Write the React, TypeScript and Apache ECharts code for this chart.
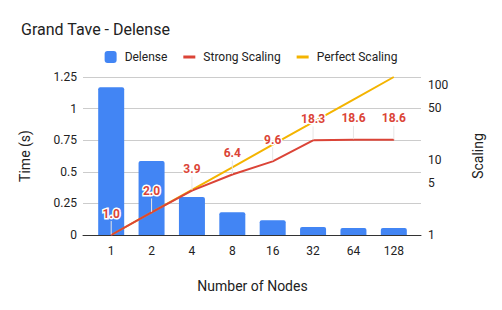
import React, { useEffect, useRef } from "react";
import * as echarts from "echarts";

const nodes = ["1", "2", "4", "8", "16", "32", "64", "128"];
const delenseTime = [1.168, 0.585, 0.3, 0.18, 0.116, 0.063, 0.055, 0.055];
const strongScaling = [1.0, 2.0, 3.9, 6.4, 9.6, 18.3, 18.6, 18.6];
const perfectScaling = [1, 2, 4, 8, 16, 32, 64, 128];
const leftTicks = [0, 0.25, 0.5, 0.75, 1, 1.25];
const rightTicks = [1, 5, 10, 50, 100];

const FONT = "Roboto";
const TXT = "#222222";

export default function App() {
  const ref = useRef<HTMLDivElement>(null);
  useEffect(() => {
    if (!ref.current) return;
    const chart = echarts.init(ref.current, null, { renderer: "svg" });
    chart.setOption({
      animation: false,
      backgroundColor: "#ffffff",
      textStyle: { fontFamily: FONT },
      title: {
        text: "Grand Tave - Delense",
        left: 16,
        top: 16,
        textStyle: { fontFamily: FONT, fontSize: 16, fontWeight: "normal", color: TXT },
      },
      legend: {
        top: 46,
        left: "center",
        itemWidth: 12,
        itemHeight: 12,
        itemGap: 16,
        textStyle: { fontFamily: FONT, fontSize: 12, color: TXT, padding: [0, 0, 0, 3] },
        data: [
          { name: "Delense", icon: "roundRect" },
          { name: "Strong Scaling", icon: "path://M0,0h12v3h-12z" },
          { name: "Perfect Scaling", icon: "path://M0,0h12v3h-12z" },
        ],
      },
      grid: [
        { left: 83, right: 81, top: 77, bottom: 75 },
        { left: 91, right: 88, top: 77, bottom: 75 },
      ],
      xAxis: [
        {
          type: "category",
          gridIndex: 0,
          data: nodes,
          axisLine: { lineStyle: { color: "#333333", width: 1 } },
          axisTick: { show: false },
          axisLabel: { show: false },
          z: 5,
        },
        {
          type: "category",
          gridIndex: 1,
          data: nodes,
          name: "Number of Nodes",
          nameLocation: "middle",
          nameGap: 44,
          nameTextStyle: { fontFamily: FONT, fontSize: 14, color: TXT },
          axisLine: { show: false },
          axisTick: { show: false },
          axisLabel: { fontFamily: FONT, fontSize: 12, color: TXT, margin: 10 },
        },
      ],
      yAxis: [
        {
          type: "value",
          gridIndex: 0,
          min: 0,
          max: 1.25,
          interval: 0.25,
          name: "Time (s)",
          nameLocation: "middle",
          nameGap: 51,
          nameTextStyle: { fontFamily: FONT, fontSize: 14, color: TXT },
          axisLine: { show: false },
          axisTick: { show: false },
          axisLabel: {
            fontFamily: FONT,
            fontSize: 12,
            color: TXT,
            margin: 6,
            customValues: leftTicks,
            formatter: (v: number) => String(v),
          },
          splitLine: { lineStyle: { color: "#cccccc" } },
        },
        {
          type: "log",
          gridIndex: 0,
          logBase: 10,
          min: 1,
          max: 128,
          name: "Scaling",
          nameLocation: "middle",
          nameGap: 50,
          nameTextStyle: { fontFamily: FONT, fontSize: 14, color: TXT },
          axisLine: { show: false },
          axisTick: { show: false },
          splitLine: { show: false },
          axisLabel: {
            fontFamily: FONT,
            fontSize: 12,
            color: TXT,
            margin: 7,
            customValues: rightTicks,
            formatter: (v: number) => String(Math.round(v)),
          },
        },
        {
          type: "value",
          gridIndex: 1,
          min: 0,
          max: 1.25,
          show: false,
          splitLine: { show: false },
        },
        {
          type: "log",
          gridIndex: 1,
          logBase: 10,
          min: 1,
          max: 128,
          show: false,
          splitLine: { show: false },
        },
      ],
      series: [
        {
          name: "Delense",
          type: "bar",
          xAxisIndex: 1,
          yAxisIndex: 2,
          data: delenseTime,
          barWidth: 26,
          itemStyle: { color: "#4285f4", borderRadius: [2, 2, 0, 0] },
          z: 2,
        },
        {
          name: "Perfect Scaling",
          type: "line",
          xAxisIndex: 1,
          yAxisIndex: 3,
          data: perfectScaling,
          showSymbol: false,
          symbol: "none",
          color: "#f4b400",
          lineStyle: { color: "#f4b400", width: 2 },
          z: 4,
        },
        {
          name: "Strong Scaling",
          type: "line",
          xAxisIndex: 1,
          yAxisIndex: 3,
          data: strongScaling,
          showSymbol: true,
          symbol: "circle",
          symbolSize: 1,
          color: "#db4437",
          itemStyle: { color: "#db4437" },
          lineStyle: { color: "#db4437", width: 2 },
          label: {
            show: true,
            position: "top",
            distance: 5,
            formatter: (p: any) => Number(p.value).toFixed(1),
            fontFamily: FONT,
            fontSize: 12,
            fontWeight: "bold",
            color: "#db4437",
            textBorderColor: "#ffffff",
            textBorderWidth: 3,
          },
          labelLayout: { dy: -10 },
          labelLine: { show: true, lineStyle: { color: "#e6e6e6", width: 1 } },
          z: 5,
        },
      ],
    });
    return () => chart.dispose();
  }, []);
  return <div ref={ref} style={{ width: 502, height: 310, position: "absolute", left: 0, top: 0 }} />;
}
